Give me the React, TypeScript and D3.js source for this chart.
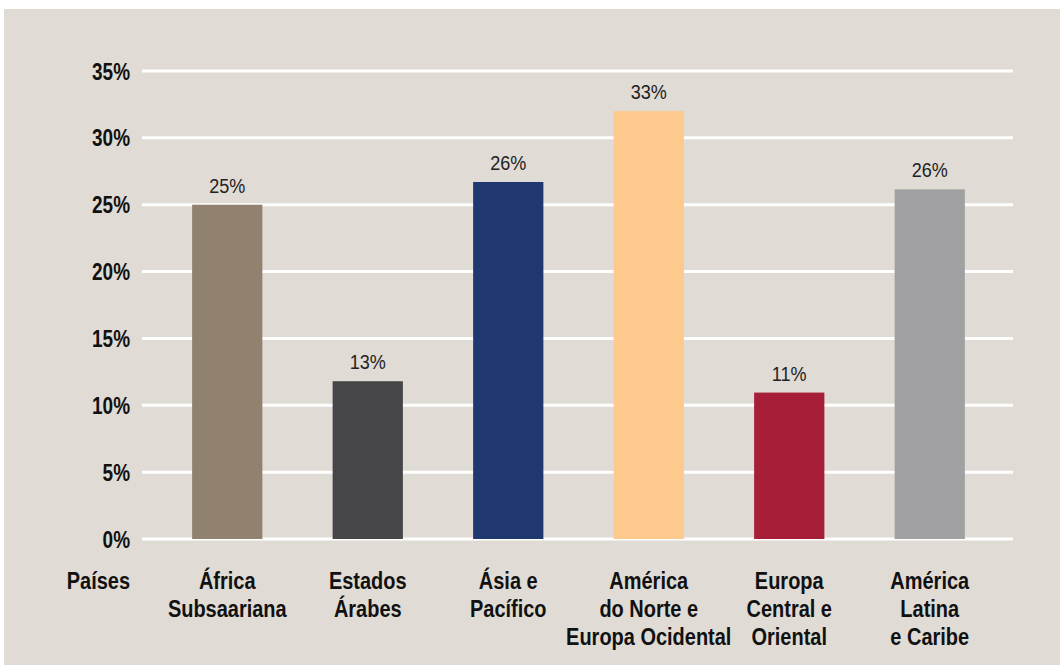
import React, { useEffect, useRef } from 'react';
import * as d3 from 'd3';

// regions and the values (bar heights differ slightly from the printed labels)
const regions: string[][] = [
    ['África', 'Subsaariana'],
    ['Estados', 'Árabes'],
    ['Ásia e', 'Pacífico'],
    ['América', 'do Norte e', 'Europa Ocidental'],
    ['Europa', 'Central e', 'Oriental'],
    ['América', 'Latina', 'e Caribe'],
];
const barValues = [25, 11.8, 26.7, 32, 10.95, 26.15];
const valueLabels = ['25%', '13%', '26%', '33%', '11%', '26%'];
const barColors = ['#90826f', '#464547', '#1f3870', '#fec98d', '#a61e38', '#a1a1a3'];
const yTicks = [0, 5, 10, 15, 20, 25, 30, 35];
const axisTitle = 'Países';

const W = 1060;
const H = 666;
const FONT = '"Liberation Sans", Arial, sans-serif';
// no condensed face installed, so squeeze the text horizontally
const SQUEEZE = 0.85;

const App = () => {
    const ref = useRef<SVGSVGElement>(null);

    useEffect(() => {
        const svg = d3.select(ref.current);
        svg.selectAll('*').remove();

        // background panel
        svg.append('rect')
            .attr('x', 4).attr('y', 9)
            .attr('width', W - 4).attr('height', 656)
            .attr('fill', '#e0dbd5');

        const yScale = d3.scaleLinear().domain([0, 35]).range([539, 71]);
        const xScale = d3.scaleBand<number>()
            .domain(d3.range(regions.length))
            .range([157, 1000])
            .paddingInner(0.5)
            .paddingOuter(0.25);
        const mid = (i: number) => xScale(i)! + xScale.bandwidth() / 2;

        // gridlines
        svg.append('g')
            .selectAll('line')
            .data(yTicks)
            .enter().append('line')
            .attr('x1', 142).attr('x2', 1013)
            .attr('y1', d => yScale(d)).attr('y2', d => yScale(d))
            .attr('stroke', '#ffffff')
            .attr('stroke-width', 3);

        // y tick labels
        svg.append('g')
            .selectAll('g')
            .data(yTicks)
            .enter().append('g')
            .attr('transform', d => `translate(130,${yScale(d) + 8.5}) scale(0.79,1)`)
            .append('text')
            .attr('text-anchor', 'end')
            .style('font-family', FONT)
            .style('font-weight', 'bold')
            .style('font-size', '24px')
            .attr('fill', '#111')
            .text(d => d + '%');

        // bars
        svg.append('g')
            .selectAll('rect')
            .data(barValues)
            .enter().append('rect')
            .attr('x', (d, i) => xScale(i)!)
            .attr('y', d => yScale(d))
            .attr('width', xScale.bandwidth())
            .attr('height', d => yScale(0) - yScale(d))
            .attr('fill', (d, i) => barColors[i]);

        // value labels
        svg.append('g')
            .selectAll('g')
            .data(barValues)
            .enter().append('g')
            .attr('transform', (d, i) => `translate(${mid(i)},${yScale(d) - 12}) scale(0.86,1)`)
            .append('text')
            .attr('text-anchor', 'middle')
            .style('font-family', FONT)
            .style('font-size', '21px')
            .attr('fill', '#222')
            .text((d, i) => valueLabels[i]);

        // x axis title
        svg.append('g')
            .attr('transform', `translate(130,589) scale(${SQUEEZE},1)`)
            .append('text')
            .attr('text-anchor', 'end')
            .style('font-family', FONT)
            .style('font-weight', 'bold')
            .style('font-size', '23.5px')
            .attr('fill', '#111')
            .text(axisTitle);

        // category labels
        const cats = svg.append('g')
            .selectAll('g')
            .data(regions)
            .enter().append('g')
            .attr('transform', (d, i) => `translate(${mid(i)},589) scale(${SQUEEZE},1)`)
            .append('text')
            .attr('text-anchor', 'middle')
            .style('font-family', FONT)
            .style('font-weight', 'bold')
            .style('font-size', '23.5px')
            .attr('fill', '#111');

        cats.selectAll('tspan')
            .data(d => d)
            .enter().append('tspan')
            .attr('x', 0)
            .attr('dy', (d, i) => (i === 0 ? 0 : 28))
            .text(d => d);
    }, []);

    return (
        <svg ref={ref} width={W} height={H}
            style={{ position: 'absolute', left: 0, top: 0, display: 'block', background: '#fff' }} />
    );
};

export default App;
